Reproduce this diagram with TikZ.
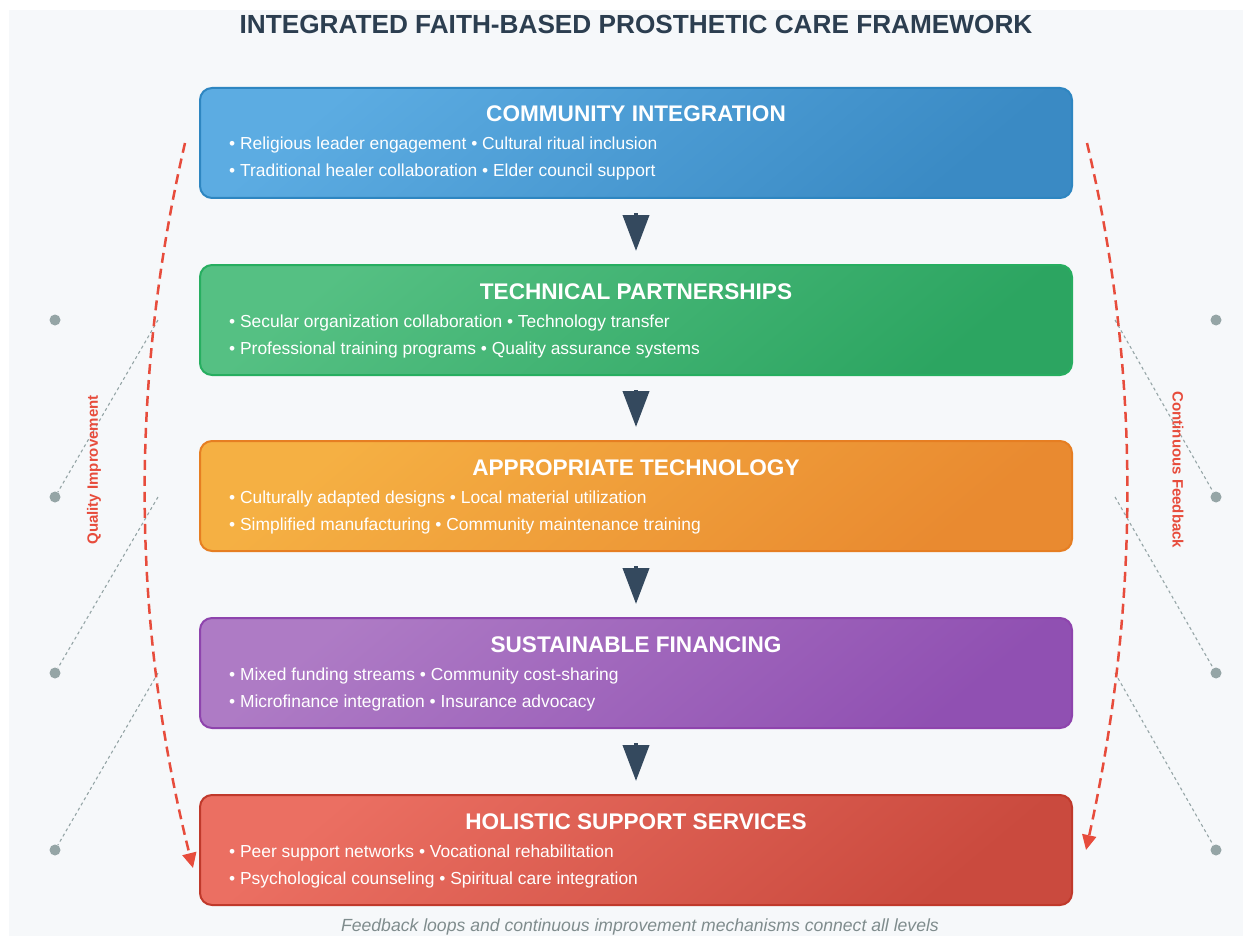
\documentclass[tikz,border=0pt]{standalone}
\usepackage{fontspec}
\setmainfont{Liberation Sans}
\usetikzlibrary{arrows.meta}

\definecolor{panelbg}{HTML}{F6F8FA}
\definecolor{ink}{HTML}{2C3E50}
\definecolor{slate}{HTML}{34495E}
\definecolor{loopred}{HTML}{E74C3C}
\definecolor{dotgrey}{HTML}{95A5A6}
\definecolor{captiongrey}{HTML}{7F8C8D}
% tier colours: light, dark, border
\definecolor{blueA}{HTML}{5CACE2}\definecolor{blueB}{HTML}{3A8AC4}\definecolor{blueE}{HTML}{2E86C1}
\definecolor{greenA}{HTML}{55C083}\definecolor{greenB}{HTML}{2CA561}\definecolor{greenE}{HTML}{27AE60}
\definecolor{orangeA}{HTML}{F5B043}\definecolor{orangeB}{HTML}{E98A30}\definecolor{orangeE}{HTML}{E67E22}
\definecolor{purpleA}{HTML}{AE7BC5}\definecolor{purpleB}{HTML}{9050B2}\definecolor{purpleE}{HTML}{8E44AD}
\definecolor{redA}{HTML}{EB6F62}\definecolor{redB}{HTML}{CA4A3E}\definecolor{redE}{HTML}{C0392B}

\tikzset{
  tier/.style 2 args={rounded corners=12pt, line width=2pt, draw=#1E,
    top color=#1A, bottom color=#1B, shading angle=#2,
    minimum width=872pt, minimum height=110pt, inner sep=0pt},
  tiertitle/.style={anchor=base, text=white, font=\fontsize{22.6}{26}\selectfont\bfseries},
  tierline/.style={anchor=base west, text=white, font=\fontsize{17.4}{20}\selectfont, inner sep=0pt},
  tierarrow/.style={-{Triangle[width=26pt,length=36pt]}, line width=4pt, draw=slate},
  loop/.style={draw=loopred, line width=2.5pt, dash pattern=on 10pt off 6pt,
    -{Triangle[width=14pt,length=15pt,sep=0pt]}},
  looplabel/.style={text=loopred, font=\fontsize{15}{17}\selectfont\bfseries},
  dot/.style={circle, fill=dotgrey, minimum size=11pt, inner sep=0pt},
  link/.style={draw=dotgrey, line width=1.1pt, dash pattern=on 3pt off 3pt},
}

\begin{document}
\begin{tikzpicture}[x=1pt,y=-1pt]
  \useasboundingbox[fill=white] (0,0) rectangle (1252,936);
  \fill[panelbg] (9,10) rectangle (1243,936);

  % heading
  \node[anchor=base, text=ink, font=\fontsize{26.2}{30}\selectfont\bfseries] (title) at (636,34)
    {INTEGRATED FAITH-BASED PROSTHETIC CARE FRAMEWORK};

  % the five tiers
  \node[tier={blue}{40}]   (b1) at (636,143) {};
  \node[tier={green}{40}]  (b2) at (636,320) {};
  \node[tier={orange}{40}] (b3) at (636,496) {};
  \node[tier={purple}{40}] (b4) at (636,673) {};
  \node[tier={red}{40}]    (b5) at (636,850) {};

  \node[tiertitle] (t1) at ([yshift=-35pt]b1.north) {COMMUNITY INTEGRATION};
  \node[tierline]  (l1a) at ([xshift=30pt,yshift=-63pt]b1.north west) {• Religious leader engagement • Cultural ritual inclusion};
  \node[tierline]  (l1b) at ([xshift=30pt,yshift=-90pt]b1.north west) {• Traditional healer collaboration • Elder council support};

  \node[tiertitle] (t2) at ([yshift=-35pt]b2.north) {TECHNICAL PARTNERSHIPS};
  \node[tierline]  (l2a) at ([xshift=30pt,yshift=-63pt]b2.north west) {• Secular organization collaboration • Technology transfer};
  \node[tierline]  (l2b) at ([xshift=30pt,yshift=-90pt]b2.north west) {• Professional training programs • Quality assurance systems};

  \node[tiertitle] (t3) at ([yshift=-35pt]b3.north) {APPROPRIATE TECHNOLOGY};
  \node[tierline]  (l3a) at ([xshift=30pt,yshift=-63pt]b3.north west) {• Culturally adapted designs • Local material utilization};
  \node[tierline]  (l3b) at ([xshift=30pt,yshift=-90pt]b3.north west) {• Simplified manufacturing • Community maintenance training};

  \node[tiertitle] (t4) at ([yshift=-35pt]b4.north) {SUSTAINABLE FINANCING};
  \node[tierline]  (l4a) at ([xshift=30pt,yshift=-63pt]b4.north west) {• Mixed funding streams • Community cost-sharing};
  \node[tierline]  (l4b) at ([xshift=30pt,yshift=-90pt]b4.north west) {• Microfinance integration • Insurance advocacy};

  \node[tiertitle] (t5) at ([yshift=-35pt]b5.north) {HOLISTIC SUPPORT SERVICES};
  \node[tierline]  (l5a) at ([xshift=30pt,yshift=-63pt]b5.north west) {• Peer support networks • Vocational rehabilitation};
  \node[tierline]  (l5b) at ([xshift=30pt,yshift=-90pt]b5.north west) {• Psychological counseling • Spiritual care integration};

  % downward flow between tiers
  \draw[tierarrow] ([yshift=-14pt]b1.south) -- ([yshift=13pt]b2.north);
  \draw[tierarrow] ([yshift=-14pt]b2.south) -- ([yshift=13pt]b3.north);
  \draw[tierarrow] ([yshift=-14pt]b3.south) -- ([yshift=13pt]b4.north);
  \draw[tierarrow] ([yshift=-14pt]b4.south) -- ([yshift=13pt]b5.north);

  % side markers and their links
  \node[dot] (dl1) at (55,320) {};
  \node[dot] (dl2) at (55,497) {};
  \node[dot] (dl3) at (55,673) {};
  \node[dot] (dl4) at (55,850) {};
  \node[dot] (dr1) at (1216,320) {};
  \node[dot] (dr2) at (1216,497) {};
  \node[dot] (dr3) at (1216,673) {};
  \node[dot] (dr4) at (1216,850) {};
  \coordinate (pl1) at (158,320);
  \coordinate (pl2) at (158,497);
  \coordinate (pl3) at (158,673);
  \coordinate (pr1) at (1115,320);
  \coordinate (pr2) at (1115,497);
  \coordinate (pr3) at (1115,673);
  \draw[link] (pl1) -- (dl2);
  \draw[link] (pl2) -- (dl3);
  \draw[link] (pl3) -- (dl4);
  \draw[link] (pr1) -- (dr2);
  \draw[link] (pr2) -- (dr3);
  \draw[link] (pr3) -- (dr4);

  % feedback loops
  \coordinate (qs) at (185,143);
  \coordinate (qe) at (193,868);
  \coordinate (fs) at (1087,143);
  \coordinate (fe) at (1086,850);
  \draw[loop] (qs) .. controls (129,384) and (132,626) .. (qe);
  \draw[loop] (fs) .. controls (1141,370) and (1140,605) .. (fe);
  \node[looplabel, rotate=90]  (ql) at (94,470)  {Quality Improvement};
  \node[looplabel, rotate=-90] (fl) at (1178,470) {Continuous Feedback};

  % footnote
  \node[anchor=base, text=captiongrey, font=\fontsize{17.6}{20}\selectfont\itshape] (cap) at (640,931)
    {Feedback loops and continuous improvement mechanisms connect all levels};
\end{tikzpicture}
\end{document}
